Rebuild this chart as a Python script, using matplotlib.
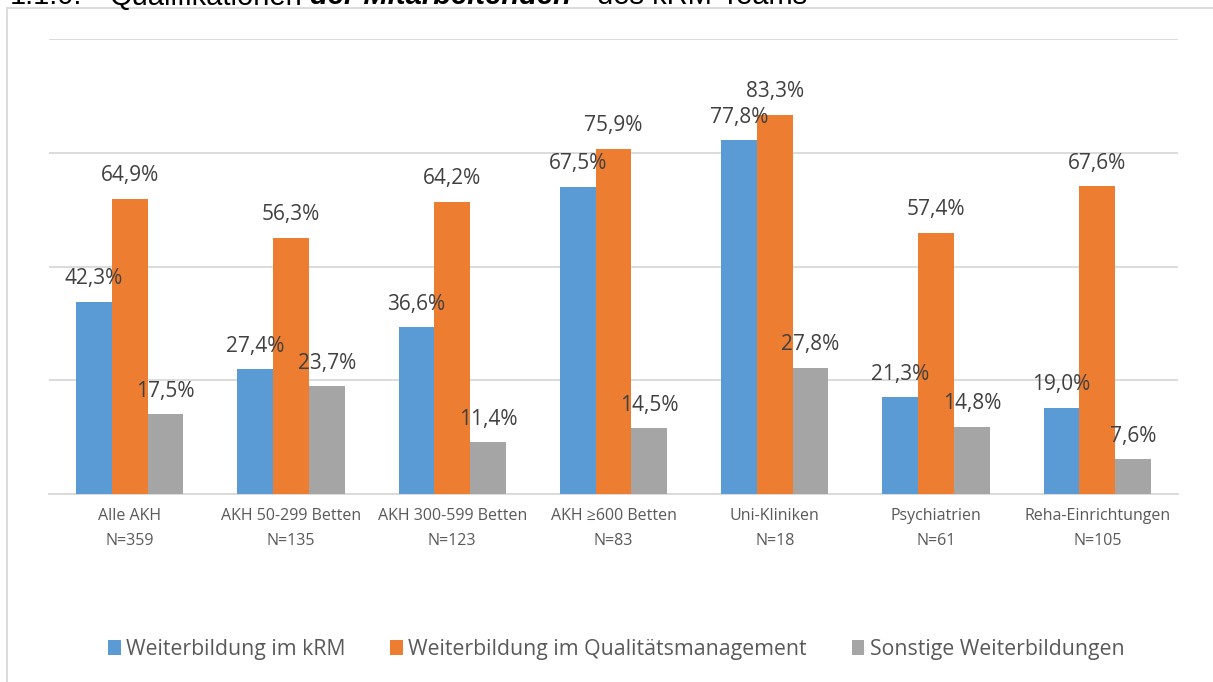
import numpy as np
import matplotlib
matplotlib.use("Agg")
import matplotlib.pyplot as plt
from matplotlib.lines import Line2D

plt.rcParams['font.family'] = ['Open Sans', 'DejaVu Sans']

# data
categories = ["Alle AKH\nN=359", "AKH 50-299 Betten\nN=135", "AKH 300-599 Betten\nN=123",
              "AKH \u2265600 Betten\nN=83", "Uni-Kliniken\nN=18", "Psychiatrien\nN=61",
              "Reha-Einrichtungen\nN=105"]
series_names = ["Weiterbildung im kRM", "Weiterbildung im Qualitätsmanagement",
                "Sonstige Weiterbildungen"]
krm = [42.3, 27.4, 36.6, 67.5, 77.8, 21.3, 19.0]
qm = [64.9, 56.3, 64.2, 75.9, 83.3, 57.4, 67.6]
sonstige = [17.5, 23.7, 11.4, 14.5, 27.8, 14.8, 7.6]
colors = ["#5B9BD5", "#ED7D31", "#A5A5A5"]

# caption pieces (only lower part visible at top edge of the picture)
caption_parts = ["1.1.0.", "Qualifikationen", "der Mitarbeitenden", "des kRM-Teams"]

W, H = 1213, 682
fig = plt.figure(figsize=(W / 100, H / 100), dpi=100)
ax = fig.add_axes([49 / W, 1 - 494 / H, (1178 - 49) / W, (494 - 39) / H])

x = np.arange(len(categories))
bw = 0.222
for i, (vals, name) in enumerate(zip([krm, qm, sonstige], series_names)):
    pos = x + (i - 1) * bw
    ax.bar(pos, vals, width=bw, color=colors[i], label=name, zorder=3)
    for px, v in zip(pos, vals):
        ax.annotate(f"{v:.1f}%".replace(".", ","), (px, v), xytext=(0, 9),
                    textcoords="offset points", ha="center", va="bottom",
                    fontsize=15, color="#404040", zorder=4)

ax.set_xlim(-0.5, len(categories) - 0.5)
ax.set_ylim(0, 100)
ax.set_yticks([0, 25, 50, 75, 100])
ax.set_yticklabels([])
ax.tick_params(axis="y", length=0)
ax.grid(axis="y", color="#D9D9D9", linewidth=1.3, zorder=0)
for s in ["top", "right", "left"]:
    ax.spines[s].set_visible(False)
ax.spines["bottom"].set_color("#D9D9D9")
ax.spines["bottom"].set_linewidth(1.3)
ax.set_xticks(x)
ax.set_xticklabels(categories, fontsize=11.5, color="#595959", linespacing=1.75)
ax.tick_params(axis="x", length=0, pad=10)

fig.legend(loc="center", bbox_to_anchor=(0.508, 0.048), ncol=3, frameon=False,
           fontsize=15.3, handlelength=0.6, handleheight=0.7, handletextpad=0.25,
           columnspacing=2.1, labelcolor="#595959")

# outer chart frame (left and top edges visible)
fig.add_artist(Line2D([7 / W, 7 / W], [0, 1 - 8 / H], color="#D9D9D9", lw=1.3))
fig.add_artist(Line2D([7 / W, 1], [1 - 8 / H, 1 - 8 / H], color="#D9D9D9", lw=1.3))

# caption, cut off by the top edge as in the source
cap_x = [10, 110, 310, 597]
for txt, cx in zip(caption_parts, cap_x):
    bold = txt.startswith("der")
    fig.text(cx / W, 1 - 4.5 / H, txt, fontsize=21, va="baseline", ha="left",
             color="black", family=["Liberation Sans", "DejaVu Sans"],
             fontweight="bold" if bold else "normal",
             fontstyle="italic" if bold else "normal")

fig.savefig("out.png", dpi=100)
